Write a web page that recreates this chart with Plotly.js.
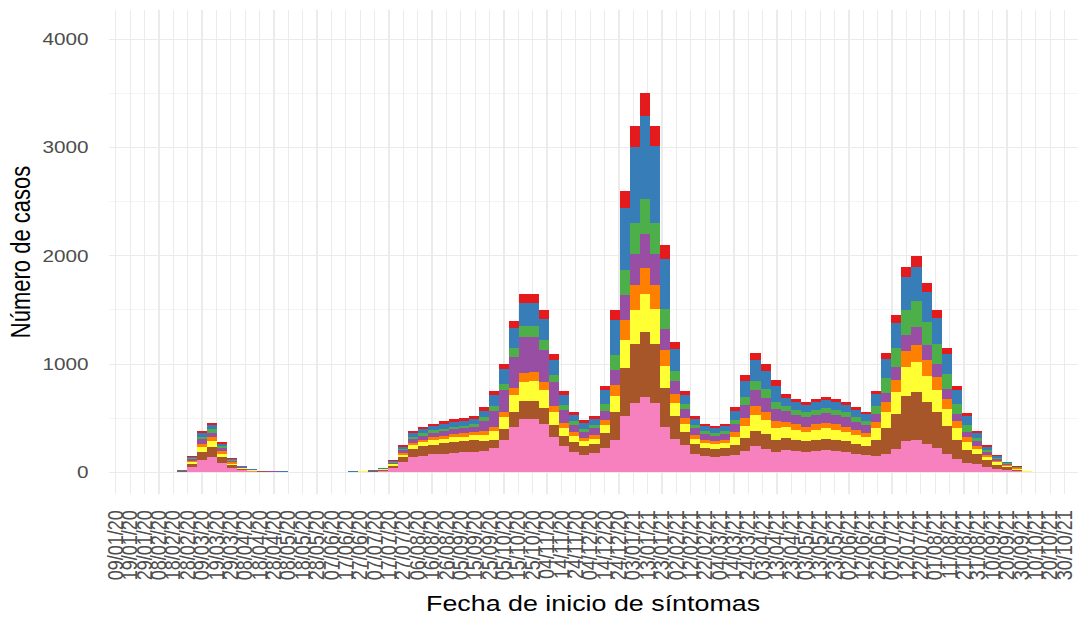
<!DOCTYPE html>
<html>
<head>
<meta charset="utf-8">
<script src="https://cdn.plot.ly/plotly-3.0.1.min.js"></script>
<style>
  html, body { margin: 0; padding: 0; background: #ffffff; overflow: hidden; width: 1080px; height: 619px; }
  #chart { width: 885px; height: 619px; transform: scaleX(1.2203); transform-origin: 0 0; }
</style>
</head>
<body>
<div id="chart"></div>
<script>
// Weekly case counts by group, week centres starting 2020-02-17
const firstWeek = '2020-02-17';

const pink = [1,6,45,114,138,84,39,18,9,5, 3,3,2,2,2,2,2,2,3,4, 7,15,41,92,140,155,166,174,181,185,
  192,198,225,300,420,490,495,445,330,240, 190,163,177,224,300,520,640,700,640,420,
  312,248,172,148,142,148,162,198,242,220, 187,209,197,189,197,203,197,189,174,162,
  150,165,218,285,300,265,225,172,120,83, 76,50,32,20,11,3];
const brown = [1,4,30,76,92,56,26,12,6,3, 2,2,1,1,1,1,1,1,2,3, 4,8,22,50,76,84,90,94,98,100,
  104,90,75,100,140,165,165,150,110,98, 90,77,83,136,255,442,544,595,545,355,
  204,127,88,77,73,77,90,117,143,130, 110,108,102,97,102,105,102,97,90,84,
  150,242,319,418,440,384,330,253,176,121, 95,62,40,25,14,4];
const yellow = [0,2,18,46,55,34,16,7,4,2, 1,1,1,0,0,0,1,1,1,1, 2,4,10,22,34,38,41,42,44,45,
  47,60,83,110,154,181,182,165,120,75, 56,48,52,80,150,260,320,350,320,210,
  120,75,52,45,43,45,72,117,143,130, 110,101,95,91,95,98,95,91,84,78,
  105,154,203,266,280,245,210,161,112,77, 46,30,19,12,7,2];
const orange = [0,2,12,30,37,22,10,5,2,1, 1,0,0,0,0,0,0,0,0,1, 1,2,7,15,23,25,27,28,29,30,
  31,36,37,50,69,82,82,74,54,45, 34,29,31,48,105,182,224,245,225,147,
  84,53,36,32,30,32,48,72,88,80, 68,50,48,46,48,49,48,46,42,39,
  60,88,116,152,160,140,120,92,64,44, 30,20,13,8,4,1];
const purple = [1,2,15,38,46,28,13,6,3,1, 1,1,1,1,0,0,0,1,1,1, 2,4,10,23,34,38,41,42,44,45,
  47,90,150,200,280,330,330,300,220,120, 67,58,62,80,135,234,288,315,288,189,
  120,82,57,50,47,50,72,117,143,130, 110,94,88,84,88,91,88,84,78,73,
  75,88,116,152,160,140,120,92,64,44, 38,25,16,10,6,1];
const green = [0,1,11,27,32,20,9,4,2,1, 1,0,0,0,0,0,0,0,0,1, 1,2,5,13,19,21,22,24,25,25,
  26,36,45,60,84,99,99,90,66,45, 34,29,31,64,135,234,288,315,288,189,
  96,45,31,27,26,27,42,72,88,80, 68,50,48,46,48,49,48,46,42,39,
  75,132,174,228,240,210,180,138,96,66, 30,20,13,8,4,1];
const blue = [0,2,12,30,37,22,10,5,2,1, 1,1,1,1,1,1,1,1,1,1, 2,3,10,22,34,38,41,42,44,45,
  47,60,98,130,182,214,214,195,142,90, 62,53,57,128,330,572,704,770,704,462,
  204,82,57,50,47,50,84,153,187,170, 145,79,75,72,75,77,75,72,66,62,
  105,176,232,304,320,280,240,184,128,88, 46,30,19,12,6,2];
const red = [0,1,7,19,23,14,7,3,2,1, 0,0,0,0,0,0,0,0,0,0, 1,2,5,13,20,21,22,24,25,25,
  26,30,37,50,71,83,83,76,55,37, 27,23,27,40,90,156,192,210,192,126,
  60,38,27,21,22,21,30,54,66,60, 52,29,27,25,27,28,27,25,24,23,
  30,55,72,95,100,88,75,58,40,27, 19,13,8,5,3,1];

const seriesList = [pink, brown, yellow, orange, purple, green, blue, red];
const colors = ['#F781BF', '#A65628', '#FFFF33', '#FF7F00', '#984EA3', '#4DAF4A', '#377EB8', '#E41A1C'];

// week dates (categories)
const weeks = [];
const d0 = new Date(firstWeek + 'T00:00:00Z');
for (let i = 0; i < pink.length; i++) {
  const d = new Date(d0.getTime() + i * 7 * 86400000);
  weeks.push(d.toISOString().slice(0, 10));
}

const WEEK_MS = 7 * 86400000;
const traces = seriesList.map((vals, k) => ({
  type: 'bar',
  x: weeks,
  y: vals,
  width: WEEK_MS,
  marker: { color: colors[k], line: { width: 0 } },
  showlegend: false,
  hoverinfo: 'x+y'
}));

const layout = {
  width: 885,
  height: 619,
  margin: { l: 89, r: 2, t: 10, b: 125 },
  paper_bgcolor: '#ffffff',
  plot_bgcolor: '#ffffff',
  barmode: 'stack',
  bargap: 0,
  font: { family: 'Liberation Sans, Arial, sans-serif', color: '#4d4d4d' },
  xaxis: {
    type: 'date',
    range: ['2020-01-04', '2021-11-08'],
    tick0: '2020-01-09',
    dtick: 864000000,
    tickformat: '%d/%m/%y',
    tickangle: -90,
    tickfont: { size: 18, color: '#4d4d4d' },
    ticks: 'outside',
    ticklen: 8,
    tickcolor: 'rgba(0,0,0,0)',
    showgrid: true,
    gridcolor: '#ebebeb',
    gridwidth: 1,
    zeroline: false,
    showline: false,
    title: { text: 'Fecha de inicio de síntomas', font: { size: 22, color: '#000000' }, standoff: 16 }
  },
  yaxis: {
    range: [-200, 4270],
    tickvals: [0, 1000, 2000, 3000, 4000],
    tickfont: { size: 17, color: '#4d4d4d' },
    ticks: 'outside',
    ticklen: 12,
    tickcolor: 'rgba(0,0,0,0)',
    showgrid: true,
    gridcolor: '#ebebeb',
    gridwidth: 1,
    minor: { tickvals: [500, 1500, 2500, 3500], showgrid: true, gridcolor: '#f4f4f4', gridwidth: 1, ticks: '' },
    zeroline: false,
    showline: false,
    title: { text: 'Número de casos', font: { size: 22, color: '#000000' }, standoff: 3 }
  }
};

Plotly.newPlot('chart', traces, layout, { displayModeBar: false, staticPlot: true });
</script>
</body>
</html>
